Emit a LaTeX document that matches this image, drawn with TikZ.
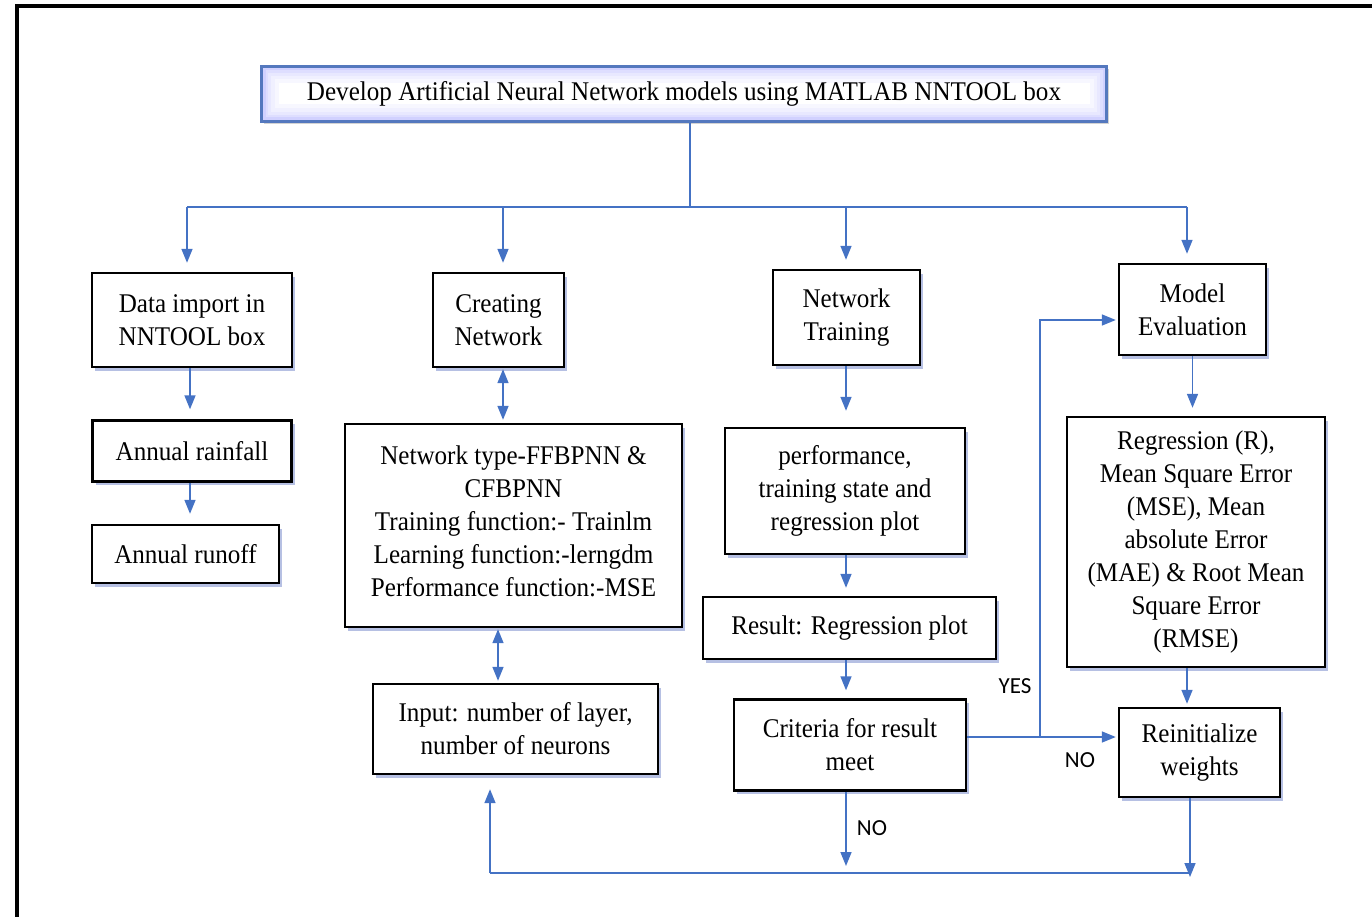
\documentclass[tikz,border=0pt]{standalone}
\usepackage{fontspec}
\setmainfont{Liberation Serif}[FakeStretch=0.93]
\newfontfamily\lblfont{Carlito}
\usetikzlibrary{arrows.meta,shadows,calc}
\definecolor{arrowblue}{RGB}{68,114,196}
\definecolor{shadowblue}{RGB}{110,130,200}
\definecolor{topborder}{RGB}{84,120,190}
\begin{document}
\begin{tikzpicture}[x=1pt,y=-1pt,
  box/.style={draw=black, line width=2.4pt, fill=white, align=center, inner sep=0pt,
    font={\fontsize{27}{33}\selectfont},
    drop shadow={shadow xshift=3pt, shadow yshift=-3.5pt, fill=shadowblue, opacity=0.5}},
  topbox/.style={draw=topborder, line width=2.6pt, fill=white, align=center, inner sep=0pt,
    font={\fontsize{27}{33}\selectfont},
    drop shadow={shadow xshift=2pt, shadow yshift=-3pt, fill=gray, opacity=0.35},
    path picture={
      \draw[blue!3, line width=34pt] (path picture bounding box.north west) rectangle (path picture bounding box.south east);
      \draw[blue!6, line width=26pt] (path picture bounding box.north west) rectangle (path picture bounding box.south east);
      \draw[blue!9, line width=19pt] (path picture bounding box.north west) rectangle (path picture bounding box.south east);
      \draw[blue!13, line width=13pt] (path picture bounding box.north west) rectangle (path picture bounding box.south east);
      \draw[blue!18, line width=8pt] (path picture bounding box.north west) rectangle (path picture bounding box.south east);
    }},
  line/.style={draw=arrowblue, line width=1.6pt},
  arr/.style={line, -{Triangle[width=11pt,length=14pt]}},
  darr/.style={line, {Triangle[width=11pt,length=14pt]}-{Triangle[width=11pt,length=14pt]}},
  lbl/.style={font={\lblfont\fontsize{23}{26}\selectfont}, text=black}
]
\useasboundingbox (0,0) rectangle (1372,917);
\draw[line width=4pt] (17,930) -- (17,6) -- (1380,6);

% top
\node[topbox, minimum width=845pt, minimum height=55pt] (top) at (684,94)
  {Develop Artificial Neural Network models using MATLAB NNTOOL box};

% column 1
\node[box, minimum width=200pt, minimum height=94pt] (n1) at (192,320) {Data import in\\NNTOOL box};
\node[box, minimum width=199pt, minimum height=61pt] (n2) at (192,451) {Annual rainfall};
\node[box, minimum width=187pt, minimum height=58pt] (n3) at (185.5,554) {Annual runoff};

% column 2
\node[box, minimum width=131pt, minimum height=94pt] (c1) at (498.5,320) {Creating\\Network};
\node[box, minimum width=337pt, minimum height=203pt, text depth=9pt] (c2) at (513.5,525.5)
  {Network type-FFBPNN \&\\CFBPNN\\Training function:- Trainlm\\Learning function:-lerngdm\\Performance function:-MSE};
\node[box, minimum width=285pt, minimum height=90pt] (c3) at (515.5,729) {Input: number of layer,\\number of neurons};

% column 3
\node[box, minimum width=147pt, minimum height=95pt] (t1) at (846.5,317.5) {Network\\Training};
\node[box, minimum width=240pt, minimum height=126pt] (t2) at (845,491) {performance,\\training state and\\regression plot};
\node[box, minimum width=293pt, minimum height=62pt] (t3) at (849.5,628) {Result: Regression plot};
\node[box, minimum width=232pt, minimum height=91pt] (t4) at (850,745) {Criteria for result\\meet};

% column 4
\node[box, minimum width=147pt, minimum height=91pt] (m1) at (1192.5,309.5) {Model\\Evaluation};
\node[box, minimum width=258pt, minimum height=250pt] (m2) at (1196,542)
  {Regression (R),\\Mean Square Error\\(MSE), Mean\\absolute Error\\(MAE) \& Root Mean\\Square Error\\(RMSE)};
\node[box, minimum width=161pt, minimum height=89pt] (m3) at (1199.5,752.5) {Reinitialize\\weights};

% helper coordinates
\coordinate (busL) at (187,207);
\coordinate (busR) at (1187,207);
\coordinate (busM) at (690,207);
\coordinate (x190) at (190,0);
\coordinate (x503) at (503,0);
\coordinate (x498) at (498,0);
\coordinate (x846) at (846,0);
\coordinate (x1187) at (1187,0);
\coordinate (ymod) at (0,320);
\coordinate (br) at (1040,737);
\coordinate (bl) at (490,873);
\coordinate (brr) at (1190,873);

% bus from top
\draw[line] (busM |- top.south) -- (busM);
\draw[line] (busL) -- (busR);
\draw[arr, shorten >=9pt] (busL) -- (busL |- n1.north);
\draw[arr, shorten >=9pt] (x503 |- busL) -- (x503 |- c1.north);
\draw[arr, shorten >=9pt] (x846 |- busL) -- (x846 |- t1.north);
\draw[arr, shorten >=9pt] (busR) -- (busR |- m1.north);

% column 1
\draw[arr, shorten >=10pt] (x190 |- n1.south) -- (x190 |- n2.north);
\draw[arr, shorten >=10pt] (x190 |- n2.south) -- (x190 |- n3.north);

% column 2
\draw[darr, shorten <=1pt, shorten >=3pt] (x503 |- c1.south) -- (x503 |- c2.north);
\draw[darr, shorten <=1pt, shorten >=2pt] (x498 |- c2.south) -- (x498 |- c3.north);

% column 3
\draw[arr, shorten >=16pt] (x846 |- t1.south) -- (x846 |- t2.north);
\draw[arr, shorten >=8pt] (x846 |- t2.south) -- (x846 |- t3.north);
\draw[arr, shorten >=8pt] (x846 |- t3.south) -- (x846 |- t4.north);

% column 4
\draw[arr, shorten >=8pt] (m1.south) -- (m1.south |- m2.north);
\draw[arr, shorten >=3pt] (x1187 |- m2.south) -- (x1187 |- m3.north);

% decision branches
\draw[line] (t4.east |- br) -- (br);
\draw[arr, shorten >=2pt] (br) |- (m1.west |- ymod);
\draw[arr, shorten >=2pt] (br) -- (m3.west |- br);

% feedback loop
\draw[line] (brr) -- (bl);
\draw[arr, shorten >=14pt] (bl) -- (bl |- c3.south);
\draw[arr, shorten >=-4pt] (m3.south -| brr) -- (brr);
\draw[arr, shorten >=7pt] (x846 |- t4.south) -- (x846 |- bl);

% labels
\node[lbl] (yes) at (1015,686) {YES};
\node[lbl] (no1) at (1080,760) {NO};
\node[lbl] (no2) at (872,828) {NO};
\end{tikzpicture}
\end{document}
